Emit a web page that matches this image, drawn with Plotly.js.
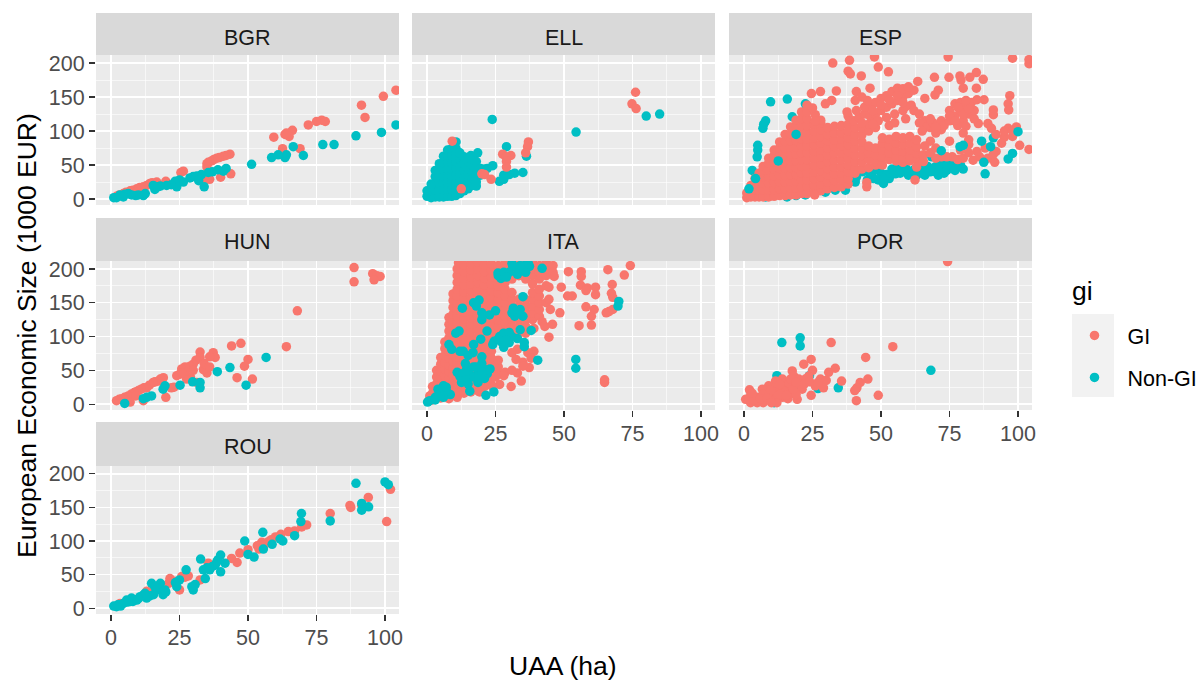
<!DOCTYPE html>
<html><head><meta charset="utf-8">
<script src="https://cdn.plot.ly/plotly-3.0.1.min.js"></script>
<style>html,body{margin:0;padding:0;background:#fff}</style></head>
<body><div id="chart" style="width:1200px;height:682px"></div>
<script>
const facetNames = ["BGR","ELL","ESP","HUN","ITA","POR","ROU"];
const seriesNames = ["GI","Non-GI"];
const xTicks = [0,25,50,75,100];
const yTicks = [0,50,100,150,200];

const bgrGI = [[104,160],[99.4,151],[91.4,138],[92.7,120],[76.9,116],[75,114],[78.2,114],[72,109],[66.2,101],[63.5,95],[65,92],[59.4,91],[64,97],[62.6,74],[69,74],[43.4,66],[42,64],[41,63],[39.5,61],[38.6,60],[37.5,58],[36.7,56],[35.5,54],[35,52],[35,47],[43.7,37],[40,32],[36,29],[34.3,28],[26.4,41],[25.5,39],[20,26],[16.7,25],[15,24],[14.2,23],[13,20],[11.8,18],[10.5,17],[9.4,15],[8,13],[7,12],[5.5,10],[4.5,8],[3,6],[2,4]];
const bgrNon = [[104,109],[98.7,98],[89.4,93],[81.4,80],[77.3,80],[70.2,64],[66.5,77],[64,65],[63.5,61],[61,65],[58.6,61],[51.3,51],[42,45],[41,41],[39,43],[37,40],[35.5,39],[33,36],[31.3,34],[30,33],[28.8,31],[34,18],[32,27],[26.4,25],[25,28],[23.4,26],[24,18],[22,21],[20.3,20],[16,14],[15.4,20],[18,19],[17,18],[11.8,5],[10,6],[9,5],[6.3,8],[5,7],[4.5,3],[2,2],[1,2],[3.3,6],[12.5,8],[7.5,6]];

const ellGILow = [[5,30],[5.5,12],[3,20],[7,16],[5.5,45],[6,14]];
const ellNon = [[23.8,117],[54.4,98.5],[80,122],[84.9,125],[29,77],[10.6,84],[10.6,74],[18.5,68],[16,64],[36.3,63],[35,39],[32,38],[30,36],[28,35],[26.4,26],[28,29],[24,49],[22,45],[18,19],[11.9,10],
[0,4],[0,12],[1.5,2],[1.5,12],[1.5,22],[3,3],[3,13],[3,23],[3,33],[3,42],[4.5,3],[4.5,13],[4.5,23],[4.5,33],[4.5,43],[4.5,52],[6,3],[6,13],[6,23],[6,33],[6,43],[6,53],[6,63],[7.5,4],[7.5,14],[7.5,24],[7.5,34],[7.5,44],[7.5,54],[7.5,64],[7.5,72],[9,4],[9,14],[9,24],[9,34],[9,44],[9,54],[9,64],[9,74],[10.5,5],[10.5,15],[10.5,25],[10.5,35],[10.5,45],[10.5,55],[10.5,65],[12,8],[12,18],[12,28],[12,38],[12,48],[12,58],[12,68],[13.5,12],[13.5,22],[13.5,32],[13.5,42],[13.5,52],[13.5,62],[15,15],[15,25],[15,35],[15,45],[15,55],[15,60],[16.5,20],[16.5,30],[16.5,40],[16.5,50],[16.5,58],[18,25],[18,35],[18,45],[18,55],[19.5,35],[19.5,45],[21,44]];
const ellGITop = [[76.1,157],[74.8,140],[76.3,133],[9.2,85],[37,84],[36.7,77],[36,68],[27.6,66],[30.6,64],[28.8,62],[29,55],[29,47],[20,37],[21,36],[23.4,29],[12.5,15]];

const espNon = [[9.7,143],[15.8,147],[22.4,140],[7.9,115],[6.9,104],[7.2,110],[5,79],[5,72],[4.8,62],[3,42],[17.6,121],[91,90],[44,42],[47.3,30],[50.9,23],[55.2,37],[58.8,42],[62,43],[66,43],[69.7,47],[72,52],[75.8,52],[78,47],[66,35],[74,42],[68.5,62],[37,13],[33.3,13],[29.7,10],[26,10],[22.4,6],[15.7,3],[7.9,3],[19,5],[40.6,25],[43,40],[53,30],[50,38],[47,40],[56,44],[60,35],[63,35],[70,40],[72,45],[76,45],[78,52],[46,34],[49,28],[52,36],[54,44],[57,38],[59,46],[61,40],[64,44],[65,38],[67,48],[68,40],[71,50],[73,38],[74,50],[77,42],[79,50],[80,44],[48,44],[51,30],[45,28],[41,32]];
const espGI = [[1,2],[1,9],[2.5,3],[2.5,12],[2.5,20],[4,3],[4,13],[4,23],[4,30],[5.5,3],[5.5,13],[5.5,23],[5.5,33],[5.5,38],[7,3],[7,13],[7,23],[7,33],[7,43],[7,48],[9,3],[9,13],[9,23],[9,33],[9,43],[9,53],[9,60],[11,4],[11,14],[11,24],[11,34],[11,44],[11,54],[11,64],[11,72],[13,5],[13,15],[13,25],[13,35],[13,45],[13,55],[13,65],[13,75],[13,84],[15,5],[15,15],[15,25],[15,35],[15,45],[15,55],[15,65],[15,75],[15,85],[15,95],[17,6],[17,16],[17,26],[17,36],[17,46],[17,56],[17,66],[17,76],[17,86],[17,96],[17,106],[19,6],[19,16],[19,26],[19,36],[19,46],[19,56],[19,66],[19,76],[19,86],[19,96],[19,106],[19,116],[21,8],[21,18],[21,28],[21,38],[21,48],[21,58],[21,68],[21,78],[21,88],[21,98],[21,108],[21,118],[21,128],[23,8],[23,18],[23,28],[23,38],[23,48],[23,58],[23,68],[23,78],[23,88],[23,98],[23,108],[23,118],[23,128],[23,138],
[25.5,10],[25.5,20],[25.5,30],[25.5,40],[25.5,50],[25.5,60],[25.5,70],[25.5,80],[25.5,90],[25.5,100],[25.5,110],[28,12],[28,22],[28,32],[28,42],[28,52],[28,62],[28,72],[28,82],[28,92],[28,102],[28,112],[30.5,15],[30.5,25],[30.5,35],[30.5,45],[30.5,55],[30.5,65],[30.5,75],[30.5,85],[30.5,95],[30.5,105],[33,17],[33,27],[33,37],[33,47],[33,57],[33,67],[33,77],[33,87],[33,97],[33,107],[35.5,18],[35.5,28],[35.5,38],[35.5,48],[35.5,58],[35.5,68],[35.5,78],[35.5,88],[35.5,98],[35.5,108],[38,22],[38,30],[38,40],[38,50],[38,60],[38,70],[38,80],[38,90],[38,100],[38,110],[40.5,38],[40.5,45],[40.5,55],[40.5,65],[40.5,75],[40.5,85],[40.5,95],[40.5,105],[43,44],[43,54],[43,64],[43,74],[43,84],[43,94],[43,104],[45.5,46],[45.5,58],[45.5,68],[45.5,78],[45.5,100],[45.5,110],[48,50],[48,55],[48,65],[48,75],[48,105],[48,115],[50.5,50],[50.5,62],[50.5,72],[50.5,82],[50.5,90],[53,58],[53,68],[53,78],[53,88],[53,108],[55.5,56],[55.5,62],[55.5,72],[55.5,82],[55.5,92],[58,54],[58,60],[58,70],[58,80],[58,90],[60.5,56],[60.5,62],[60.5,72],[60.5,82],[60.5,92],[63,57],[63,67],[63,77],[63,87],[65.5,55],[65.5,65],[68,68],[70,60],[72,62],[76,62],[78,58],[80,60],[83.6,57],[86,62],[89,60],[91.5,54],[74,62],
[40,115],[42,120],[44,125],[46,122],[48,125],[50,130],[52,135],[54,140],[56,145],[58,150],[60,155],[62,160],[46,135],[48,142],[50,148],[52,152],[54,158],[56,163],[58,162],[60,165],[49,115],[52,120],[55,125],[58,130],[61,138],[59,136],[55,112],[59,118],[62,130],[47,110],[43,112],[38,122],[41,130],[44,135],[47,130],[50,138],[53,146],[56,152],[58,142],[45,145],[24.6,155],[27.9,158],[33.7,159],[32,145],[29.7,140],[41,158],[46,163],[40.6,145],[43,150],[37.6,128],[26,124],[28,116],[26,115],[25,134],
[32.4,200],[38.5,204],[47.6,209],[49,194],[52.7,187],[38,188],[38.8,184],[42.8,181],[74.5,209],[98,207],[104,205],[104,199],[84.8,186],[82.4,179],[78.8,181],[79.2,175],[87.3,176],[74.8,179],[69.5,179],[63.4,173],[80,163],[84.8,163],[70.9,160],[69.7,153],[66,148],[97,152],[96.4,140],[96.6,131],[87.6,146],[91,131],[91,124],[85.5,111],[89,111],[90.3,104],[96.4,104],[99.4,106],[95,91],[98,92],[94,82],[100.6,79],[104,73],[82,87],[62.4,28],[44.8,18],[44.8,24],[25.8,6],[63,47],
[64,125],[66,115],[68,105],[70,97],[72,102],[66,105],[69,112],[72,115],[64,112],[65,100],[73,108],[75,115],[77,122],[79,130],[81,137],[83,142],[85,146],[75,130],[77,140],[79,142],[82,125],[84,118],[80,115],[78,108],[81,107],[84,130],[75,122],[80,97],[82,80],[92,95],[95,100],[98,100],[88,75],[85,70],[82,68],[79,72],[92,70],[91,66],[70,75],[75,85],[68,85],[66,78],[80,125],[78,135],[82,133],[81,145],[77,115],[70,105],[68,118]];
const espNonTop = [[4.2,30],[1.8,15],[12.5,56],[19,95],[100,99],[86.7,85],[90,77],[80,79],[78.8,77],[72,71],[98,67],[96.4,59],[87.5,54],[88,37],[70.9,35]];

const hunGI = [[88.7,202],[88.7,181],[95.5,193],[97,190],[98.2,189],[96,184],[68,138],[64,85],[44,86],[47.4,90],[50,66],[48.7,56],[51.6,37],[46,39],[37.3,76],[38,69],[36,70],[32.5,77],[32.5,69],[31,65],[30,59],[28.8,56],[27,55],[25.8,52],[25,44],[24,42],[35,46],[33.7,51],[31.3,32],[29,40],[27.6,37],[19.1,39],[18,37],[17.3,34],[16,33],[15.4,32],[14,28],[13,24],[12,24],[11,22],[10,20],[9,18],[8.5,17],[7.5,15],[6.3,12],[5,10],[3.9,8],[3,7],[2,5],[20,10],[22,24],[23,25],[11.8,5],[7,3],[9,12],[5,6],[30,50],[27,48],[34,60],[36,55],[26,46]];
const hunNon = [[56.6,69],[38.8,48],[43.4,54],[49.3,28],[32.5,24],[32.5,32],[29.8,33],[25.2,28],[19,22],[19.7,27],[14.8,12],[11.8,8],[13,10],[5,1]];

const itaGI = [[0.5,4],[1,12],[2,6],[2,16],[2,26],[3.5,10],[3.5,20],[3.5,30],[3.5,40],[3.5,50],[5,9],[5,19],[5,29],[5,39],[5,49],[5,59],[5,69],[6.5,12],[6.5,22],[6.5,32],[6.5,42],[6.5,52],[6.5,62],[6.5,72],[6.5,82],[6.5,92],[8,8],[8,18],[8,28],[8,38],[8,48],[8,58],[8,68],[8,78],[8,88],[8,98],[8,108],[8,118],[8,128],[9.5,13],[9.5,23],[9.5,33],[9.5,43],[9.5,53],[9.5,63],[9.5,73],[9.5,83],[9.5,93],[9.5,103],[9.5,113],[9.5,123],[9.5,133],[9.5,143],[9.5,153],[9.5,163],[11,10],[11,20],[11,30],[11,40],[11,50],[11,60],[11,70],[11,80],[11,90],[11,100],[11,110],[11,120],[11,130],[11,140],[11,150],[11,160],[11,170],[11,180],[11,190],[11,200],[11.5,209],
[13.5,16],[13.5,26],[13.5,36],[13.5,46],[13.5,56],[13.5,66],[13.5,76],[13.5,86],[13.5,96],[13.5,106],[13.5,116],[13.5,126],[13.5,136],[13.5,146],[13.5,156],[13.5,166],[13.5,176],[13.5,186],[13.5,196],[13.5,206],[16,18],[16,28],[16,38],[16,48],[16,58],[16,68],[16,78],[16,88],[16,98],[16,108],[16,118],[16,128],[16,138],[16,148],[16,158],[16,168],[16,178],[16,188],[16,198],[16,208],[18.5,20],[18.5,30],[18.5,40],[18.5,50],[18.5,60],[18.5,70],[18.5,80],[18.5,90],[18.5,100],[18.5,110],[18.5,120],[18.5,130],[18.5,140],[18.5,150],[18.5,160],[18.5,170],[18.5,180],[18.5,190],[18.5,200],[18.5,210],[21,26],[21,36],[21,46],[21,56],[21,66],[21,76],[21,86],[21,96],[21,106],[21,116],[21,126],[21,136],[21,146],[21,156],[21,166],[21,176],[21,186],[21,196],[21,206],[23.5,28],[23.5,38],[23.5,48],[23.5,58],[23.5,68],[23.5,78],[23.5,88],[23.5,98],[23.5,108],[23.5,118],[23.5,128],[23.5,138],[23.5,148],[23.5,158],[23.5,168],[23.5,178],[23.5,188],[23.5,198],[23.5,208],[26,45],[26,55],[26,65],[26,105],[26,115],[26,125],[26,135],[26,145],[26,155],[26,165],[26,175],[26,185],[26,195],[26,205],[28.5,47],[28.5,95],[28.5,110],[28.5,120],[28.5,130],[28.5,140],[28.5,150],[28.5,160],[28.5,170],[28.5,180],[28.5,190],[28.5,200],[28.5,210],[31,105],[31,115],[31,125],[31,135],[31,145],[31,155],[31,165],[31,185],[31,195],[31,205],[33.5,115],[33.5,125],[33.5,135],[33.5,145],[33.5,155],[33.5,190],[33.5,200],[33.5,210],[36,115],[36,125],[36,135],[36,145],[36,155],[36,185],[36,195],[36,205],[38.5,125],[38.5,135],[38.5,145],[38.5,155],[38.5,165],[38.5,178],[38.5,190],[38.5,200],[38.5,210],[41,130],[41,140],[41,150],[41,160],[41,170],[41,185],[41,195],[41,205],[43.5,150],[43.5,175],[43.5,190],[43.5,200],[43.5,210],[46,205],[46,195],
[74.2,205],[72,191],[66,199],[56.3,196],[56.3,189],[51.6,196],[46.4,189],[49,173],[56,176],[58.5,172],[61.5,173],[61.5,162],[58,168],[53,160],[51.3,160],[67.6,177],[67.3,164],[67.8,158],[58,144],[61,140],[60,130],[60,117],[55.5,116],[66.4,137],[65.4,135],[67.8,140],[48.5,135],[45.8,118],[44.5,99],[64.8,36],[64.8,32],[44.5,173],[44.5,155],[45,140],[42,122],[43,115],[39,78],[36.8,76],[37.3,54],[34.4,34],[30.7,26],[33,46],[32.5,66],[33,81],[26.5,29],[19.2,18],[24,25],[28,42],[31,50],[35,62],[31,76],[38,68],[35,56],[25,40],[30,110],[33,100],[36,105],[39,112]];
const itaNon = [[70,152],[69.7,145],[54.3,66],[54.3,53],[40.4,65],[38,109],[35,159],[35.5,91],[35.5,85],[31.5,142],[34,140],[35,130],[32,130],[33,136],[26.5,100],[24.5,93],[30,91],[28,105],[10.5,105],[11.7,108],[21.9,108],[19.6,96],[13.2,78],[16.8,76],[21,51],[18.6,46],[14.4,51],[12,41],[12.6,32],[18.6,32],[15.6,19],[21.5,13],[24.4,18],[6,27],[4.7,17],[1,5],[0.2,3],[3,10],[7,20],[8.5,14],[31.3,204],[35,199],[37.4,204],[42,201],[25.9,194],[27,186],[30,195],[33,192],[36,206],[19,154],[22.8,132],[20,125],[25,138],[12.9,142],[9,81],[27.4,91],[33,97],[30,106],[14,60],[17,55],[20,60],[16,42],[22,45],[23,52],[11,47],[15,30],[6,10],[4,22],[20,70],[17,88],[34,110],[31,100],[24,88],[26,96],[28,84],[29,95],[31,135],[13,45],[15,48],[17,40],[19,42],[21,38],[14,36],[18,55],[20,47],[26,190],[28,195],[29,188],[31,208],[33,200],[36,195],[37,208],[34,205],[5,22],[6,18],[7,25],[4,12],[3,6],[17,150],[18,145],[20,135],[12,78],[15,72],[8,88]];

const porGI = [[74.3,211],[54.3,85],[31.8,91],[44.4,69],[24.5,66],[21.8,59],[25,50],[33.3,53],[30.9,47],[45.2,37],[42.4,32],[41.2,24],[40.4,20],[41,5],[49,13],[35.6,34],[27.9,37],[28.5,29],[26,27],[24.5,13],[17.6,49],[18.2,41],[20,37],[22.4,37],[23.6,41],[20.6,29],[19.4,7],[21.2,22],[14,37],[11.5,34],[9,27],[6.7,22],[2,21],[11.5,24],[14,26],[16.5,24],[16.5,31],[0.6,7],[2.4,2],[4.8,2],[7.3,7],[9.7,12],[12,17],[14.5,19],[17,15],[11.5,7],[14,10],[9.7,5],[4.8,10],[2.4,12],[7,15],[9.7,20],[7,2],[5,5],[2,7],[16,8],[19,14],[30,35],[13,29],[17,37],[3.5,6],[6,8],[8.5,9],[13,14],[15.5,13],[18,22],[22,30],[19,32],[24,33],[29,24],[12,2],[10,2],[3,16],[27,32]];
const porNon = [[68.2,50],[13.8,91],[20.5,98],[20.5,86],[34.4,24],[12,42],[23.9,42],[27,23],[11,2],[19,21]];

const rouGI = [[102,177],[100.6,129],[93.9,165],[87.2,153],[87.5,150],[80,141],[91.5,153],[71.4,124],[69.6,121],[67,115],[64.7,114],[60,106],[57.4,99],[55,98],[53.4,93],[50,87],[47,82],[46,68],[44,74],[35.5,67],[32.5,42],[28.2,48],[25.8,47],[25,27],[21,37],[15.7,29],[13,25],[3.3,7],[21.5,44],[62,110],[58.5,102],[56,95],[54,88],[27,46],[23,40]];
const rouNon = [[100,188],[101.2,184],[89.4,186],[91.5,156],[94,151],[91.5,146],[80,130],[69.5,141],[69.3,129],[67,108],[62.7,100],[61.7,103],[58.8,95],[55.4,113],[48.8,100],[55.6,88],[52.2,76],[50,80],[40,79],[38.6,69],[40,54],[41.6,67],[39,72],[32.7,73],[33.7,57],[34.4,44],[35,60],[30,27],[30.7,35],[29.5,32],[27.4,57],[25,42],[23.5,38],[24,32],[14.8,37],[18,37],[19,20],[16.6,27],[18,30],[20,24],[13,15],[14,18],[10.6,17],[12,20],[8,10],[5.7,12],[7,10],[3.3,5],[1,3],[2,2],[7.5,15],[19.7,27],[36,57],[38,64],[15.5,20],[12.4,22],[9.4,12],[4.5,7],[6,9],[2.5,5],[3.5,3],[10,14],[16,32],[37,62]];

// draw order per facet: [facet index, series index, points]
const layers = [
 [0,0,bgrGI],[0,1,bgrNon],
 [1,0,ellGILow],[1,1,ellNon],[1,0,ellGITop],
 [2,1,espNon],[2,0,espGI],[2,1,espNonTop],
 [3,0,hunGI],[3,1,hunNon],
 [4,0,itaGI],[4,1,itaNon],
 [5,1,porNon],[5,0,porGI],
 [6,0,rouGI],[6,1,rouNon]
];
const seriesColors = ["#F8766D","#00BFC4"];

// facet frames in page pixels
const W=1200,H=682;
const cols=[[96,399],[412,715],[729,1032]];
const rows=[{strip:13,top:55,bottom:205,label:38},{strip:218,top:261,bottom:410,label:241.5},{strip:422,top:466,bottom:614,label:447}];
const dx=v=>v/W, dy=v=>1-v/H;
const layout={width:W,height:H,margin:{l:0,r:0,t:0,b:0,autoexpand:false},paper_bgcolor:"#fff",plot_bgcolor:"#EBEBEB",
 font:{family:"Liberation Sans, Arial, sans-serif",size:21,color:"#4D4D4D"},
 shapes:[],annotations:[],
 legend:{x:dx(1061.5),y:dy(315),xanchor:"left",yanchor:"top",bgcolor:"rgba(0,0,0,0)",
  font:{size:21.5,color:"#000"},traceorder:"grouped",tracegroupgap:11,itemwidth:56}};
const seen=new Set();
facetNames.forEach((name,i)=>{
 const c=i%3,r=Math.floor(i/3),s=i===0?"":String(i+1);
 const showX=(r===2)||(r===1&&c>0), showY=c===0;
 const [x0,x1]=cols[c], R=rows[r];
 const grid={showgrid:true,gridcolor:"#fff",gridwidth:1.3,zeroline:false,showline:false,ticklen:6,tickcolor:"#333",tickwidth:1.1,
   tickfont:{size:21.5,color:"#4D4D4D"},fixedrange:true};
 layout["xaxis"+s]=Object.assign({},grid,{domain:[dx(x0),dx(x1)],range:[-5.48,105.1],anchor:"y"+s,tickmode:"array",tickvals:xTicks,ticktext:xTicks.map(String),ticklabelstandoff:-2,
   ticks:showX?"outside":"",showticklabels:showX,minor:{tickvals:[12.5,37.5,62.5,87.5],showgrid:true,gridcolor:"#fff",gridwidth:0.6,ticks:""}});
 layout["yaxis"+s]=Object.assign({},grid,{domain:[dy(R.bottom),dy(R.top)],range:[-8.8,211.8],anchor:"x"+s,tickmode:"array",tickvals:yTicks,ticktext:yTicks.map(String),
   ticks:showY?"outside":"",showticklabels:showY,minor:{tickvals:[25,75,125,175],showgrid:true,gridcolor:"#fff",gridwidth:0.6,ticks:""}});
 layout.shapes.push({type:"rect",xref:"paper",yref:"paper",x0:dx(x0),x1:dx(x1),y0:dy(R.top),y1:dy(R.strip),fillcolor:"#D9D9D9",line:{width:0},layer:"below"});
 layout.annotations.push({xref:"paper",yref:"paper",x:dx((x0+x1)/2),y:dy(R.label),text:name,showarrow:false,font:{size:21.5,color:"#1A1A1A"},xanchor:"center",yanchor:"middle"});
});
layout.shapes.push({type:"rect",xref:"paper",yref:"paper",x0:dx(1072),x1:dx(1114),y0:dy(397),y1:dy(314),fillcolor:"#F2F2F2",line:{width:0},layer:"below"});
layout.annotations.push({xref:"paper",yref:"paper",x:dx(563),y:dy(666),text:"UAA (ha)",showarrow:false,font:{size:26.5,color:"#000"},xanchor:"center",yanchor:"middle"});
layout.annotations.push({xref:"paper",yref:"paper",x:dx(27),y:dy(336),text:"European Economic Size (1000 EUR)",textangle:-90,showarrow:false,font:{size:26.5,color:"#000"},xanchor:"center",yanchor:"middle"});
layout.annotations.push({xref:"paper",yref:"paper",x:dx(1070),y:dy(291),text:"gi",showarrow:false,font:{size:26.5,color:"#000"},xanchor:"left",yanchor:"middle"});

const traces=layers.map(([f,k,pts])=>{
 const s=f===0?"":String(f+1), first=!seen.has(k); seen.add(k);
 return {type:"scatter",mode:"markers",name:seriesNames[k],legendgroup:seriesNames[k],showlegend:first,
  xaxis:"x"+s,yaxis:"y"+s,x:pts.map(p=>p[0]),y:pts.map(p=>p[1]),marker:{size:9.5,color:seriesColors[k],line:{width:0}},hoverinfo:"skip"};
});
Plotly.newPlot("chart",traces,layout,{staticPlot:true,displayModeBar:false});
</script></body></html>
